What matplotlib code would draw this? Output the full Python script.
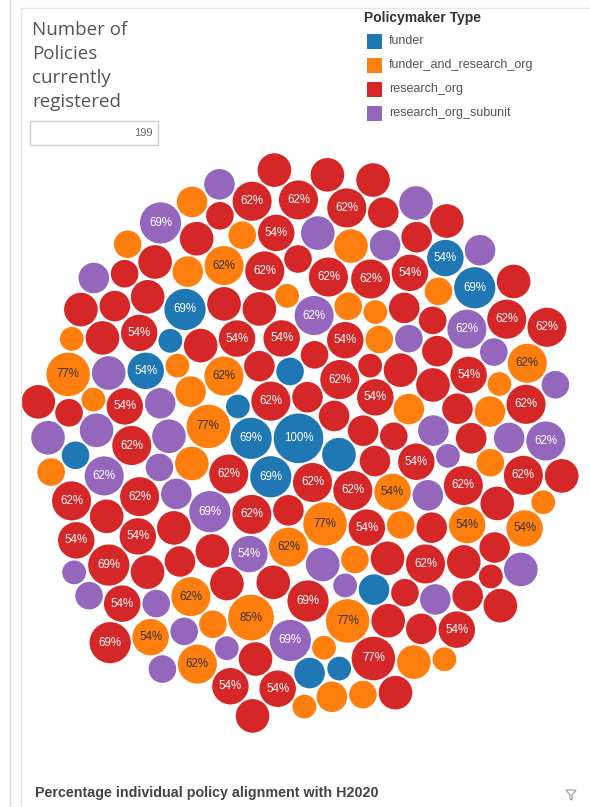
import numpy as np
import matplotlib
matplotlib.use("Agg")
import matplotlib.pyplot as plt
from matplotlib.patches import Circle, Rectangle, Polygon

# Niveles de alineacion (k/13) y numero de politicas por tipo
levels = [100, 85, 77, 69, 62, 54, 46, 38, 31, 23]
funder_counts = [1, 0, 0, 4, 0, 2, 1, 2, 2, 3]
funder_research_counts = [0, 1, 4, 0, 6, 4, 3, 6, 11, 10]
research_org_counts = [0, 0, 1, 3, 21, 17, 31, 18, 8, 2]
subunit_counts = [0, 0, 0, 3, 4, 1, 8, 10, 8, 4]

types = ["funder", "funder_and_research_org", "research_org", "research_org_subunit"]
colors = ["#1f77b4", "#ff7f0e", "#d62728", "#9467bd"]
label_colors = ["white", "#333333", "white", "white"]
n_policies = 199
title_lines = ["Number of", "Policies", "currently", "registered"]

# lista de burbujas (tipo, valor)
bubbles = []
for t, counts in enumerate([funder_counts, funder_research_counts, research_org_counts, subunit_counts]):
    for lv, c in zip(levels, counts):
        bubbles += [(t, lv)] * c

n = len(bubbles)
# orden de colocacion: la mayor primero, el resto intercalado
first = max(range(n), key=lambda i: bubbles[i][1])
rest = [i for i in range(n) if i != first]
order = [first] + [rest[(k * 67) % len(rest)] for k in range(len(rest))]

R100 = 24.8
pad = 2.0
radii = np.array([R100 * np.sqrt(bubbles[i][1] / 100.0) for i in order])


def pack(radii, pad):
    xs = np.zeros(len(radii))
    ys = np.zeros(len(radii))
    xs[1] = -(radii[0] + radii[1] + pad)
    for k in range(2, len(radii)):
        rk = radii[k]
        px, py, pr = xs[:k], ys[:k], radii[:k]
        ii, jj = np.triu_indices(k, 1)
        dx = px[jj] - px[ii]
        dy = py[jj] - py[ii]
        d = np.hypot(dx, dy)
        a = pr[ii] + rk + pad
        b = pr[jj] + rk + pad
        ok = (d < a + b) & (d > np.abs(a - b))
        ii, jj, dx, dy, d, a, b = ii[ok], jj[ok], dx[ok], dy[ok], d[ok], a[ok], b[ok]
        l = (a ** 2 - b ** 2 + d ** 2) / (2 * d)
        h = np.sqrt(np.maximum(a ** 2 - l ** 2, 0))
        mx = px[ii] + l * dx / d
        my = py[ii] + l * dy / d
        cx = np.concatenate([mx - h * dy / d, mx + h * dy / d])
        cy = np.concatenate([my + h * dx / d, my - h * dx / d])
        dist = np.hypot(cx[:, None] - px[None, :], cy[:, None] - py[None, :])
        valid = np.all(dist >= pr[None, :] + rk + pad - 1e-6, axis=1)
        cx, cy = cx[valid], cy[valid]
        best = np.argmin(cx ** 2 + (cy * 0.95) ** 2)
        xs[k], ys[k] = cx[best], cy[best]
    return xs, ys


xs, ys = pack(radii, pad)
# centrar la nube en la zona del grafico
x0 = (np.min(xs - radii) + np.max(xs + radii)) / 2
y0 = (np.min(ys - radii) + np.max(ys + radii)) / 2
xs = xs - x0 + 300
ys = ys - y0 + 443

fig = plt.figure(figsize=(5.9, 8.07), dpi=100)
ax = fig.add_axes([0, 0, 1, 1])
ax.set_xlim(0, 590)
ax.set_ylim(807, 0)
ax.axis("off")

sans = ["Liberation Sans", "DejaVu Sans"]

# bordes del panel
ax.plot([10, 10], [0, 807], color="#dddddd", lw=1)
ax.plot([21, 21], [8, 807], color="#e6e6e6", lw=1)
ax.plot([21, 590], [8, 8], color="#e6e6e6", lw=1)

for k, idx in enumerate(order):
    t, v = bubbles[idx]
    ax.add_patch(Circle((xs[k], ys[k]), radii[k], facecolor=colors[t], edgecolor="none"))
    if v >= 54:
        ax.text(xs[k], ys[k], f"{v}%", ha="center", va="center", fontsize=8.3,
                color=label_colors[t], family=sans)

# panel izquierdo
for i, line in enumerate(title_lines):
    ax.text(32, 30 + i * 24, line, ha="left", va="center", fontsize=13.5,
            color="#555555", family=["Open Sans", "DejaVu Sans"])
ax.add_patch(Rectangle((30, 121), 128, 24, facecolor="white", edgecolor="#d0d0d0", lw=1))
ax.text(153, 133, str(n_policies), ha="right", va="center", fontsize=8, color="#666666",
        family=sans)

# leyenda
ax.text(364, 18, "Policymaker Type", ha="left", va="center", fontsize=10, fontweight="bold",
        color="#333333", family=sans)
for i, (t, c) in enumerate(zip(types, colors)):
    yy = 41 + i * 24
    ax.add_patch(Rectangle((367, yy - 7), 15, 15, facecolor=c, edgecolor="none"))
    ax.text(389, yy, t, ha="left", va="center", fontsize=9, color="#555555", family=sans)

ax.text(35, 793, "Percentage individual policy alignment with H2020", ha="left", va="center",
        fontsize=10.3, fontweight="bold", color="#444444", family=sans)
# icono de filtro
ax.add_patch(Polygon([(566, 790), (576, 790), (572, 795), (572, 800), (570, 799), (570, 795)],
                     closed=True, facecolor="none", edgecolor="#999999", lw=0.8))

fig.savefig("out.png", dpi=100)
